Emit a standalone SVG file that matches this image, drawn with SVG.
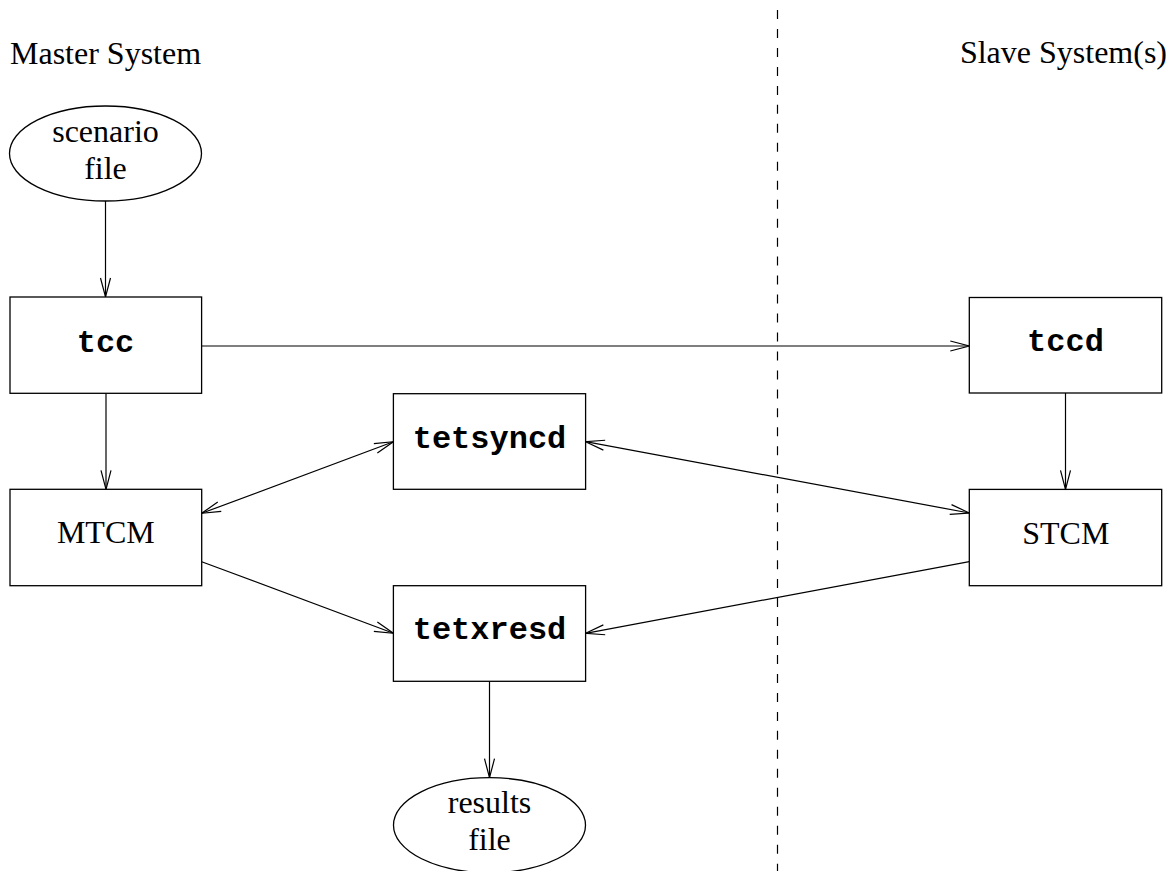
<svg xmlns="http://www.w3.org/2000/svg" width="1173" height="871" viewBox="0 0 1173 871">
<style>
.box{fill:#fff;stroke:#000;stroke-width:1.3}
.ell{fill:#fff;stroke:#000;stroke-width:1.3}
.serif{font-family:"Liberation Serif","Times New Roman",serif;font-size:32px;fill:#000}
.mono{font-family:"Liberation Mono","Courier New",monospace;font-size:32px;font-weight:bold;fill:#000}
.c{text-anchor:middle}
.conn{stroke:#000;stroke-width:1.2;fill:none}
.arr{marker-end:url(#ah)}
.bi{marker-start:url(#ah);marker-end:url(#ah)}
</style>
<defs>
<marker id="ah" markerUnits="userSpaceOnUse" markerWidth="24" markerHeight="14" refX="0" refY="0" viewBox="-21 -7 24 14" orient="auto-start-reverse" overflow="visible">
<path d="M -19 -5 L 0 0 L -19 5" fill="none" stroke="#000" stroke-width="1.2"/>
</marker>
</defs>
<rect width="1173" height="871" fill="#fff"/>
<g id="divider">
<line x1="777.5" y1="10" x2="777.5" y2="871" stroke="#000" stroke-width="1.2" stroke-dasharray="9 9.97"/>
</g>
<g id="labels">
<text class="serif" x="10" y="64">Master System</text>
<text class="serif" x="1167" y="63" text-anchor="end">Slave System(s)</text>
</g>
<g id="connectors">
<line class="conn arr" x1="105.5" y1="201" x2="105.5" y2="297"/>
<line class="conn arr" x1="201.6" y1="346" x2="969.3" y2="346"/>
<line class="conn arr" x1="106" y1="393.3" x2="106" y2="489.3"/>
<line class="conn arr" x1="1065.5" y1="393" x2="1065.5" y2="489.4"/>
<line class="conn bi" x1="201.7" y1="513.3" x2="393.4" y2="441.7"/>
<line class="conn arr" x1="201.7" y1="561.7" x2="393.4" y2="633.3"/>
<line class="conn bi" x1="969.3" y1="513" x2="585.6" y2="441.7"/>
<line class="conn arr" x1="969.3" y1="561.6" x2="585.6" y2="633.3"/>
<line class="conn arr" x1="489.5" y1="681.3" x2="489.5" y2="777.7"/>
</g>
<g id="scenario">
<ellipse class="ell" cx="105.5" cy="153.5" rx="96" ry="47.5"/>
<text class="serif c" x="105.5" y="141.7">scenario</text>
<text class="serif c" x="105.5" y="179">file</text>
</g>
<g id="tcc">
<rect class="box" x="10" y="297" width="191.6" height="96.3"/>
<text class="mono c" x="105.5" y="351.7">tcc</text>
</g>
<g id="tccd">
<rect class="box" x="969.3" y="297.5" width="192.4" height="95.5"/>
<text class="mono c" x="1065.5" y="351">tccd</text>
</g>
<g id="tetsyncd">
<rect class="box" x="393.4" y="393.7" width="192.2" height="95.6"/>
<text class="mono c" x="489.5" y="448.3">tetsyncd</text>
</g>
<g id="MTCM">
<rect class="box" x="10" y="489.3" width="191.7" height="96.4"/>
<text class="serif c" x="105.8" y="543.3">MTCM</text>
</g>
<g id="STCM">
<rect class="box" x="969.3" y="489.4" width="192.4" height="96.3"/>
<text class="serif c" x="1065.8" y="543.7">STCM</text>
</g>
<g id="tetxresd">
<rect class="box" x="393.4" y="585.7" width="192.2" height="95.6"/>
<text class="mono c" x="489.5" y="639.3">tetxresd</text>
</g>
<g id="results">
<ellipse class="ell" cx="489.5" cy="825.2" rx="96" ry="47.5"/>
<text class="serif c" x="489.5" y="812.7">results</text>
<text class="serif c" x="489.5" y="850">file</text>
</g>
</svg>
